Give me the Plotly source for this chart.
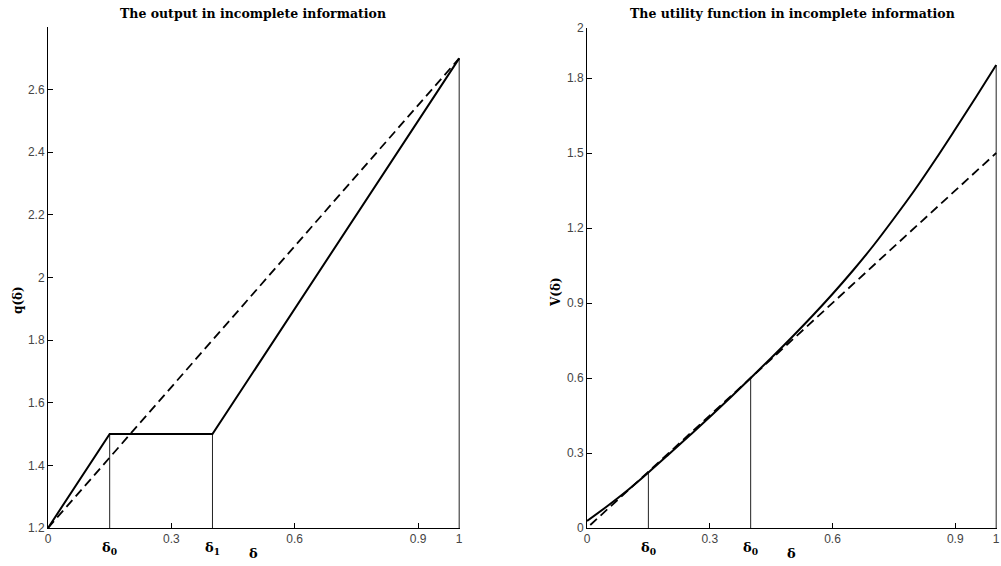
import plotly.graph_objects as go

# ---------------- data ----------------
# Left panel: output q(delta)
q_delta = [0, 0.15, 0.4, 1.0]
q_incomplete = [1.2, 1.5, 1.5, 2.7]
q_dash_delta = [0, 1.0]
q_complete = [1.2, 2.7]
q_marks = [0.15, 0.4, 1.0]
q_marks_top = [1.5, 1.5, 2.7]
q_mark_labels = ["δ<sub>0</sub>", "δ<sub>1</sub>"]

# Right panel: utility V(delta)
v_delta = [0, 0.05, 0.1, 0.15, 0.2, 0.25, 0.3, 0.35, 0.4, 0.45, 0.5,
           0.55, 0.6, 0.65, 0.7, 0.75, 0.8, 0.85, 0.9, 0.95, 1.0]
v_incomplete = [0.028, 0.088, 0.152, 0.222, 0.295, 0.369, 0.444, 0.521, 0.600, 0.680, 0.762,
                0.847, 0.936, 1.030, 1.130, 1.238, 1.350, 1.470, 1.595, 1.722, 1.852]
v_dash_delta = [0.008, 1.0]
v_complete = [0.012, 1.5]
v_marks = [0.15, 0.4, 1.0]
v_marks_top = [0.222, 0.600, 1.852]
v_mark_labels = ["δ<sub>0</sub>", "δ<sub>0</sub>"]

x_ticks = [0, 0.3, 0.6, 0.9, 1]
x_ticktext = ["0", "0.3", "0.6", "0.9", "1"]
q_ticks = [1.2, 1.4, 1.6, 1.8, 2.0, 2.2, 2.4, 2.6]
q_ticktext = ["1.2", "1.4", "1.6", "1.8", "2", "2.2", "2.4", "2.6"]
v_ticks = [0, 0.3, 0.6, 0.9, 1.2, 1.5, 1.8, 2.0]
v_ticktext = ["0", "0.3", "0.6", "0.9", "1.2", "1.5", "1.8", "2"]

W, H = 1001, 566
serif = "DejaVu Serif"
sans = "Liberation Sans"

fig = go.Figure()

# ---- left panel ----
for xm, ym in zip(q_marks, q_marks_top):
    fig.add_trace(go.Scatter(x=[xm, xm], y=[1.2, ym], mode="lines",
                             line=dict(color="#222", width=1), xaxis="x", yaxis="y",
                             showlegend=False, hoverinfo="skip"))
fig.add_trace(go.Scatter(x=q_dash_delta, y=q_complete, mode="lines",
                         line=dict(color="black", width=1.8, dash="9px,5px"),
                         xaxis="x", yaxis="y", showlegend=False))
fig.add_trace(go.Scatter(x=q_delta, y=q_incomplete, mode="lines",
                         line=dict(color="black", width=2),
                         xaxis="x", yaxis="y", showlegend=False))

# ---- right panel ----
for xm, ym in zip(v_marks, v_marks_top):
    fig.add_trace(go.Scatter(x=[xm, xm], y=[0, ym], mode="lines",
                             line=dict(color="#222", width=1), xaxis="x2", yaxis="y2",
                             showlegend=False, hoverinfo="skip"))
fig.add_trace(go.Scatter(x=v_dash_delta, y=v_complete, mode="lines",
                         line=dict(color="black", width=1.8, dash="9px,5px"),
                         xaxis="x2", yaxis="y2", showlegend=False))
fig.add_trace(go.Scatter(x=v_delta, y=v_incomplete, mode="lines",
                         line=dict(color="black", width=2, shape="spline"),
                         xaxis="x2", yaxis="y2", showlegend=False))

y_bot = (H - 528) / H
y_top_l = (H - 27) / H
y_top_r = (H - 28) / H

axis_common = dict(showline=True, linecolor="black", linewidth=1, mirror=False,
                   ticks="inside", ticklen=5, tickcolor="black", tickwidth=1,
                   showgrid=False, zeroline=False, automargin=False,
                   tickfont=dict(family=sans, size=12, color="#444"))

fig.update_layout(
    width=W, height=H,
    margin=dict(l=0, r=0, t=0, b=0, autoexpand=False),
    paper_bgcolor="white", plot_bgcolor="white",
    xaxis=dict(domain=[48 / W, 460 / W], range=[0, 1.002], anchor="y",
               tickvals=x_ticks, ticktext=x_ticktext, **axis_common),
    yaxis=dict(domain=[y_bot, y_top_l], range=[1.2, 2.8], anchor="x",
               tickvals=q_ticks, ticktext=q_ticktext, **axis_common),
    xaxis2=dict(domain=[587 / W, 997 / W], range=[0, 1.002], anchor="y2",
                tickvals=x_ticks, ticktext=x_ticktext, **axis_common),
    yaxis2=dict(domain=[y_bot, y_top_r], range=[0, 2], anchor="x2",
                tickvals=v_ticks, ticktext=v_ticktext, **axis_common),
)

ann = []
title_font = dict(family=serif, size=12.5, color="black")
ann.append(dict(text="<b>The output in incomplete information</b>", x=253.5 / W, y=(H - 13) / H,
                xref="paper", yref="paper", showarrow=False, font=title_font,
                xanchor="center", yanchor="middle"))
ann.append(dict(text="<b>The utility function in incomplete information</b>", x=792 / W, y=(H - 13) / H,
                xref="paper", yref="paper", showarrow=False, font=title_font,
                xanchor="center", yanchor="middle"))
lab_font = dict(family=serif, size=12, color="black")
ann.append(dict(text="<b>q(δ)</b>", x=18 / W, y=(H - 300) / H, xref="paper", yref="paper",
                showarrow=False, textangle=-90, font=lab_font, xanchor="center", yanchor="middle"))
ann.append(dict(text="<b>V(δ)</b>", x=556 / W, y=(H - 292) / H, xref="paper", yref="paper",
                showarrow=False, textangle=-90, font=lab_font, xanchor="center", yanchor="middle"))
for xa, marks, labels in (("x", q_marks, q_mark_labels), ("x2", v_marks, v_mark_labels)):
    for xm, lab in zip(marks[:2], labels):
        ann.append(dict(text="<b>" + lab + "</b>", x=xm, y=(H - 548) / H, xref=xa, yref="paper",
                        showarrow=False, font=dict(family=serif, size=13, color="black"),
                        xanchor="center", yanchor="middle"))
    ann.append(dict(text="<b>δ</b>", x=0.5, y=(H - 553) / H, xref=xa, yref="paper",
                    showarrow=False, font=dict(family=serif, size=13, color="black"),
                    xanchor="center", yanchor="middle"))
fig.update_layout(annotations=ann)

fig.write_html("out.html", config={"displayModeBar": False},
               post_script="document.body.style.margin='0px';")
